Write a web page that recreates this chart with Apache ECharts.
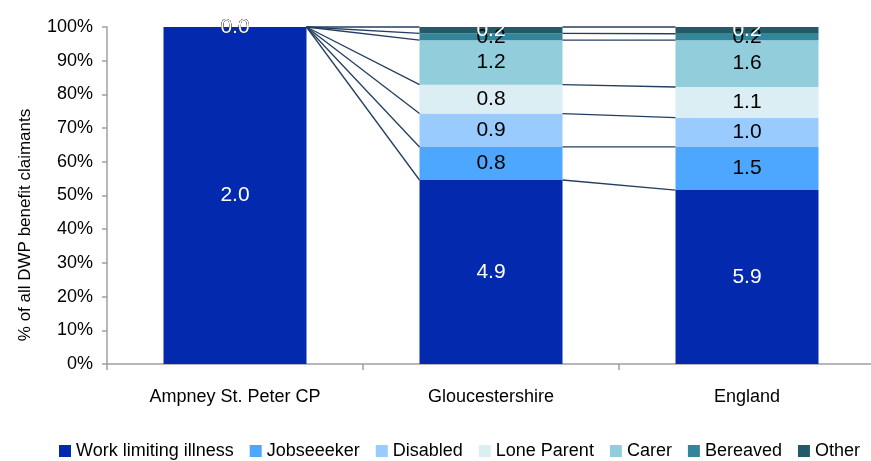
<!DOCTYPE html>
<html lang="en">
<head>
  <meta charset="UTF-8">
  <title>DWP benefit claimants</title>
  <script src="https://cdn.jsdelivr.net/npm/echarts@6.0.0/dist/echarts.min.js"></script>
  <style>
    html, body { margin: 0; padding: 0; background: #fff; overflow: hidden; }
  </style>
</head>
<body>
  <!-- plot runs slightly past the right edge, like the original -->
  <div id="app" style="width: 875px; height: 461px;"></div>
  <script>
    var categories = ['Ampney St. Peter CP', 'Gloucestershire', 'England']
    var seriesNames = ['Work limiting illness', 'Jobseeeker', 'Disabled', 'Lone Parent', 'Carer', 'Bereaved', 'Other']
    var colors = ['#0329AE', '#4DA7FE', '#99CBFE', '#DAEEF3', '#92CDDC', '#31869C', '#235A68']
    var labelColors = ['#fff', '#000', '#000', '#000', '#000', '#000', '#fff']

    // share of all claimants (%), bar heights
    var workLimiting = [100, 54.6, 51.6]
    var jobseeker = [0, 9.8, 12.8]
    var disabled = [0, 9.9, 8.7]
    var loneParent = [0, 8.6, 9.1]
    var carer = [0, 13.2, 13.9]
    var bereaved = [0, 2.0, 1.9]
    var other = [0, 1.9, 2.0]

    // claimant counts shown as labels
    var workLimitingCount = [2.0, 4.9, 5.9]
    var jobseekerCount = [0, 0.8, 1.5]
    var disabledCount = [0, 0.9, 1.0]
    var loneParentCount = [0, 0.8, 1.1]
    var carerCount = [0, 1.2, 1.6]
    var bereavedCount = [0, 0.2, 0.2]
    var otherCount = [0, 0.2, 0.2]

    var yTicks = [0, 10, 20, 30, 40, 50, 60, 70, 80, 90, 100]

    var shares = [workLimiting, jobseeker, disabled, loneParent, carer, bereaved, other]
    var counts = [workLimitingCount, jobseekerCount, disabledCount, loneParentCount, carerCount, bereavedCount, otherCount]

    var barWidth = 143
    var font = 'Liberation Sans, Arial, sans-serif'

    // top edge of every segment, for the series lines
    var cum = categories.map(function () { return 0 })
    var lineData = []
    shares.forEach(function (arr) {
      cum = cum.map(function (c, i) { return c + arr[i] })
      for (var i = 0; i < categories.length - 1; i++) {
        lineData.push([i, cum[i], cum[i + 1]])
      }
    })

    var series = shares.map(function (arr, k) {
      return {
        name: seriesNames[k],
        type: 'bar',
        stack: 'all',
        barWidth: barWidth,
        itemStyle: { color: colors[k] },
        label: {
          show: true,
          position: 'inside',
          color: labelColors[k],
          fontSize: 21,
          fontFamily: font,
          formatter: function (p) { return counts[k][p.dataIndex].toFixed(1) }
        },
        emphasis: { disabled: true },
        data: arr
      }
    })

    series.push({
      type: 'custom',
      silent: true,
      z: 5,
      data: lineData,
      renderItem: function (params, api) {
        var i = api.value(0)
        var a = api.coord([i, api.value(1)])
        var b = api.coord([i + 1, api.value(2)])
        return {
          type: 'line',
          shape: { x1: a[0] + barWidth / 2, y1: a[1], x2: b[0] - barWidth / 2, y2: b[1] },
          style: { stroke: '#233E5F', lineWidth: 1.3 }
        }
      }
    })

    var mCharts = echarts.init(document.querySelector('#app'))
    var option = {
      animation: false,
      grid: { left: 107, top: 27, right: 0, height: 337 },
      legend: {
        data: seriesNames,
        left: 54,
        top: 437,
        itemWidth: 12,
        itemHeight: 12,
        itemGap: 16,
        icon: 'rect',
        textStyle: { fontSize: 18, fontFamily: font, color: '#000' }
      },
      graphic: [{
        type: 'text',
        x: 25,
        y: 225,
        rotation: Math.PI / 2,
        style: {
          text: '% of all DWP benefit claimants',
          fontSize: 17,
          fontFamily: font,
          fill: '#000',
          align: 'center',
          verticalAlign: 'middle'
        }
      }],
      xAxis: {
        type: 'category',
        data: categories,
        axisLine: { lineStyle: { color: '#A0A0A0', width: 1.5 } },
        axisTick: { show: true, length: 6, lineStyle: { color: '#A0A0A0', width: 1.5 } },
        axisLabel: { margin: 24, fontSize: 18, fontFamily: font, color: '#000' }
      },
      yAxis: {
        type: 'value',
        min: yTicks[0],
        max: yTicks[yTicks.length - 1],
        interval: 10,
        axisLine: { show: true, lineStyle: { color: '#A0A0A0', width: 1.5 } },
        axisTick: { show: true, length: 5, lineStyle: { color: '#A0A0A0', width: 1.5 } },
        splitLine: { show: false },
        axisLabel: { margin: 14, fontSize: 18, fontFamily: font, color: '#000', formatter: '{value}%' }
      },
      series: series
    }
    mCharts.setOption(option)
  </script>
</body>
</html>
